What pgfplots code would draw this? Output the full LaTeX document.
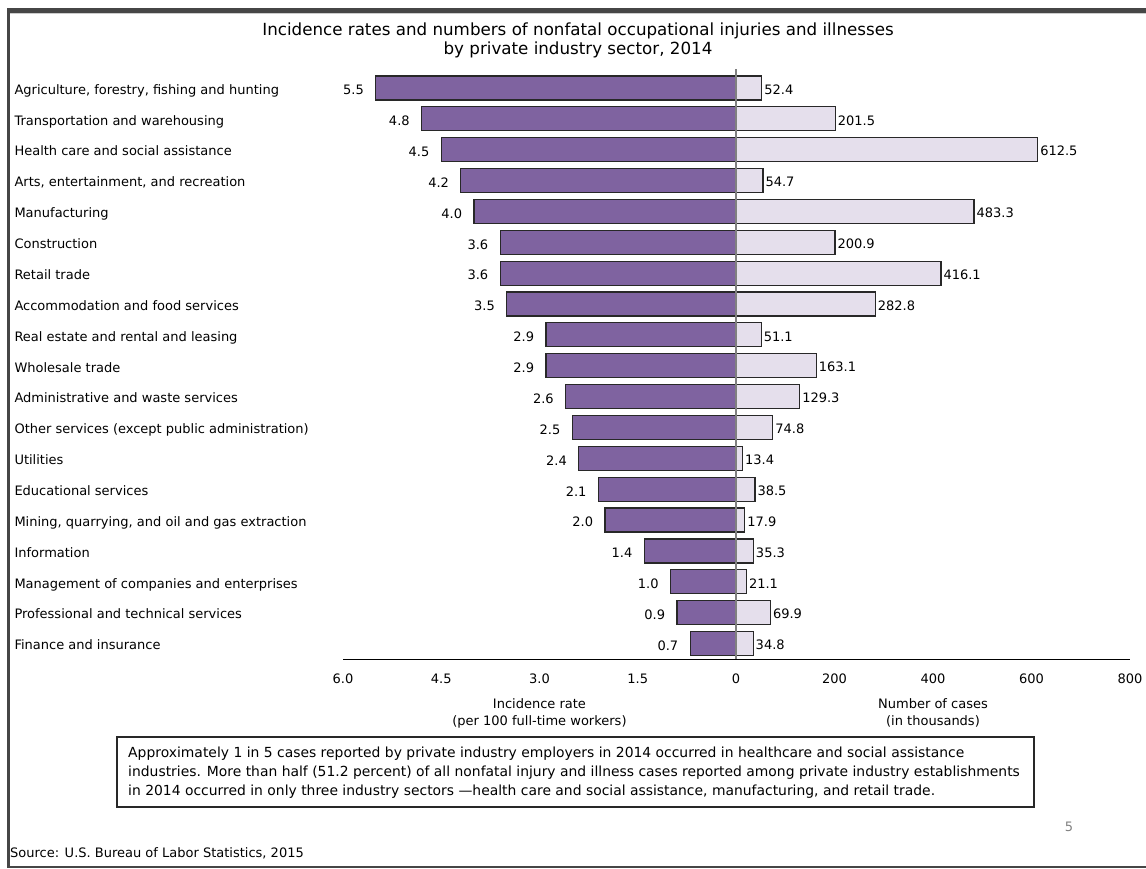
\documentclass[border=0pt]{standalone}
\usepackage{fontspec}
\setmainfont{DejaVu Sans}
\usepackage{pgfplots}
\usepackage{pgfplotstable}
\pgfplotsset{compat=1.18}
\definecolor{barpurple}{RGB}{127,99,160}
\definecolor{barlight}{RGB}{229,223,236}
\definecolor{edge}{RGB}{40,40,40}
\definecolor{frame}{RGB}{70,70,70}

\pgfplotstableread[col sep=comma]{
idx,rate,cases
0,5.5,52.4
1,4.8,201.5
2,4.5,612.5
3,4.2,54.7
4,4.0,483.3
5,3.6,200.9
6,3.6,416.1
7,3.5,282.8
8,2.9,51.1
9,2.9,163.1
10,2.6,129.3
11,2.5,74.8
12,2.4,13.4
13,2.1,38.5
14,2.0,17.9
15,1.4,35.3
16,1.0,21.1
17,0.9,69.9
18,0.7,34.8
}\datatable

\newcommand{\fs}{\fontsize{13}{17}\selectfont}

\begin{document}
\begin{tikzpicture}[x=1pt,y=1pt]
\path (0,0) rectangle (1146,869);
% frame
\fill[frame] (7,856) rectangle (1146,861);
\fill[gray!40] (10,855) rectangle (1146,856);
\fill[frame] (7,2) rectangle (10,861);
\fill[frame] (7,1) rectangle (1146,3);

\node[font=\fontsize{16.7}{19}\selectfont, align=center] at (578,829) {Incidence rates and numbers of nonfatal occupational injuries and illnesses\\by private industry sector, 2014};

% left axis
\begin{axis}[
  at={(343pt,210pt)}, anchor=south west,
  scale only axis, width=393pt, height=586.5pt,
  xmin=0, xmax=6, x dir=reverse,
  ymin=-0.5, ymax=18.5, y dir=reverse,
  axis x line*=bottom, axis y line*=left,
  x axis line style={black, line width=1pt},
  y axis line style={draw=none},
  xtick={6,4.5,3,1.5,0}, xticklabels={6.0,4.5,3.0,1.5,0},
  major tick length=0pt,
  xticklabel style={font=\fs, yshift=-11pt},
  ytick={0,...,18},
  yticklabels={{Agriculture, forestry, fishing and hunting},
    {Transportation and warehousing},
    {Health care and social assistance},
    {Arts, entertainment, and recreation},
    {Manufacturing}, {Construction}, {Retail trade},
    {Accommodation and food services},
    {Real estate and rental and leasing},
    {Wholesale trade},
    {Administrative and waste services},
    {Other services (except public administration)},
    {Utilities}, {Educational services},
    {Mining, quarrying, and oil and gas extraction},
    {Information},
    {Management of companies and enterprises},
    {Professional and technical services},
    {Finance and insurance}},
  yticklabel style={font=\fs, anchor=west, xshift=-332pt, yshift=-3pt, text height=1.5ex, text depth=0.3ex},
  xlabel={Incidence rate\\(per 100 full-time workers)},
  xlabel style={font=\fs, align=center, yshift=-8pt},
  clip=false,
]
\addplot[xbar, bar width=24pt, fill=barpurple, draw=edge, line width=1.2pt,
  nodes near coords, point meta=explicit symbolic,
  nodes near coords style={font=\fs, anchor=east, xshift=-8pt, yshift=-2pt, text=black}]
  table[x=rate, y=idx, meta=rate] {\datatable};
\end{axis}

% right axis
\begin{axis}[
  at={(736pt,210pt)}, anchor=south west,
  scale only axis, width=394pt, height=586.5pt,
  xmin=0, xmax=800,
  ymin=-0.5, ymax=18.5, y dir=reverse,
  axis x line*=bottom, axis y line=none,
  x axis line style={black, line width=1pt},
  xtick={200,400,600,800}, xticklabels={200,400,600,800},
  major tick length=0pt,
  xticklabel style={font=\fs, yshift=-11pt},
  ytick=\empty,
  xlabel={Number of cases\\(in thousands)},
  xlabel style={font=\fs, align=center, yshift=-8pt},
  clip=false,
]
\addplot[xbar, bar width=24pt, fill=barlight, draw=edge, line width=1.2pt,
  nodes near coords, point meta=explicit symbolic,
  nodes near coords style={font=\fs, anchor=west, inner sep=2pt, yshift=-1.5pt, text=black}]
  table[x=cases, y=idx, meta=cases] {\datatable};
\draw[gray, line width=1.5pt] (axis cs:0,-0.6) -- (axis cs:0,18.5);
\end{axis}

% note box
\draw[edge, line width=1.2pt] (117,62) rectangle (1034,132);
\node[font=\fontsize{13.9}{19}\selectfont, align=left, anchor=north west, inner sep=0pt] at (128,122) {Approximately 1 in 5 cases reported by private industry employers in 2014 occurred in healthcare and social assistance\\industries. More than half (51.2 percent) of all nonfatal injury and illness cases reported among private industry establishments\\in 2014 occurred in only three industry sectors ---health care and social assistance, manufacturing, and retail trade.};

\node[font=\fs, text=gray] at (1069,42) {5};
\node[font=\fs, anchor=west, inner sep=0pt] at (10,16) {Source: U.S. Bureau of Labor Statistics, 2015};
\end{tikzpicture}
\end{document}
